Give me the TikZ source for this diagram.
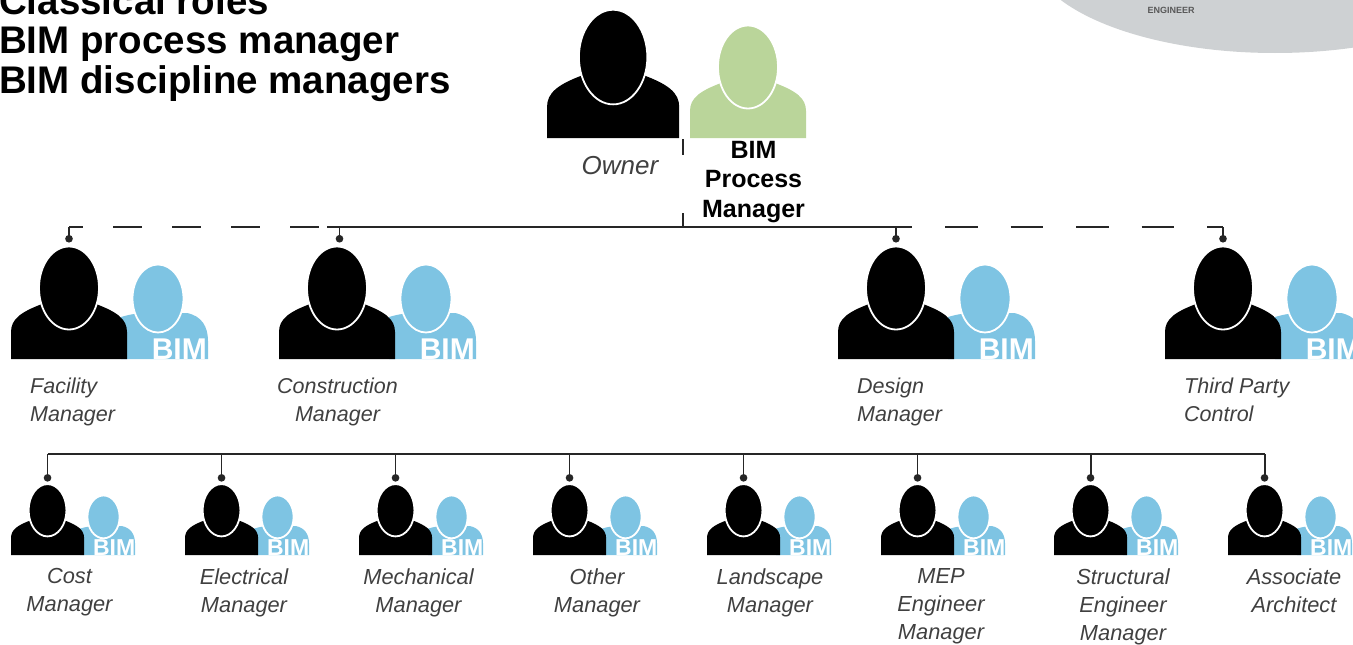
\documentclass[tikz,border=0pt]{standalone}
\usepackage{fontspec}
\setmainfont{Liberation Sans}
\usetikzlibrary{arrows.meta}
\definecolor{bimblue}{HTML}{7EC4E3}
\definecolor{bimgreen}{HTML}{BAD59A}
\definecolor{logogray}{HTML}{CED1D3}
\definecolor{labgray}{HTML}{404040}
\tikzset{
    link/.style={line width=1.9pt, black!85},
    dashlink/.style={line width=1.4pt, black!85},
    droplink/.style={link, -{Circle[length=7.5pt]}},
    lab/.style={font=\fontsize{21.5}{28}\selectfont\itshape, text=labgray, inner sep=0pt, anchor=north,
        execute at begin node=\rule{0pt}{16pt}},
    sublab/.style={lab, font=\fontsize{21.8}{27.8}\selectfont\itshape, align=center},
    bimtext/.style={inner sep=0pt, anchor=south east, text=white},
    pics/person/.style={code={
        \fill[#1] (0,0) -- (0,-27) .. controls (0,-40) and (10,-47) .. (31,-55) -- (85,-55)
            .. controls (106,-47) and (116,-40) .. (116,-27) -- (116,0) -- cycle;
        \draw[fill=#1, draw=white, line width=1.8pt] (58,-71) ellipse (30 and 41.5);
        \coordinate (-top) at (58,-116.5);
    }},
    pics/helper/.style={code={
        \fill[bimblue] (-6,0) -- (-6,-42) .. controls (4,-45) and (12,-46) .. (20,-46) -- (60,-46)
            .. controls (75,-43) and (81,-32) .. (81,-18) -- (81,0) -- cycle;
        \draw[fill=bimblue, draw=white, line width=1.8pt] (31,-60.5) ellipse (25.5 and 34);
    }}
}
\begin{document}
\begin{tikzpicture}[x=1pt,y=-1pt]
    \useasboundingbox (0,0) rectangle (1353,645);

    % logo
    \fill[logogray] (1275,-50) ellipse (245 and 103);
    \node[inner sep=0pt, font=\fontsize{9}{9}\selectfont\bfseries, text=black!65] (logo) at (1171,10) {ENGINEER};

    % title
    \node[anchor=north west, align=left, inner sep=0pt, font=\fontsize{38.5}{39.5}\selectfont\bfseries] (title) at (-1,-14)
        {Classical roles\\BIM process manager\\BIM discipline managers};

    % top row
    \pic[scale=1.14] (owner) at (547,138) {person=black};
    \pic (bpm) at (690,138) {person=bimgreen};
    \node[lab, font=\fontsize{26}{29}\selectfont\itshape, anchor=center, execute at begin node={}] (ownerlab) at (620,166) {Owner};
    \node[align=center, inner sep=0pt, font=\fontsize{25}{29.5}\selectfont\bfseries] (bpmlab) at (753.5,182) {BIM\\Process\\Manager};

    % second row
    \foreach \name/\x in {fac/11,con/279,des/838,thi/1165} {
        \pic at (\x+116,359) {helper};
        \pic (\name) at (\x,359) {person=black};
        \node[bimtext, font=\fontsize{30}{30}\selectfont\bfseries] (\name bim) at (\x+196,359.5) {BIM};
    }
    \node[lab, anchor=north west, align=left] (faclab) at (30,378) {Facility\\Manager};
    \node[lab, align=center] (conlab) at (337.5,378) {Construction\\Manager};
    \node[lab, anchor=north west, align=left] (deslab) at (857,378) {Design\\Manager};
    \node[lab, anchor=north west, align=left] (thilab) at (1184,378) {Third Party\\Control};

    % third row
    \foreach \i/\x/\lx/\txt in {1/11/69.5/{Cost\\Manager},2/185/244/{Electrical\\Manager},3/359/418.5/{Mechanical\\Manager},4/533/597/{Other\\Manager},5/707/770/{Landscape\\Manager},6/881/941/{MEP\\Engineer\\Manager},7/1054/1123/{Structural\\Engineer\\Manager},8/1228/1294/{Associate\\Architect}} {
        \pic[scale=.63] at (\x+73,555) {helper};
        \pic[scale=.63] (sub\i) at (\x,555) {person=black};
        \node[bimtext, font=\fontsize{23}{23}\selectfont\bfseries] (bim\i) at (\x+124.5,555.5) {BIM};
        \node[sublab] (sublab\i) at (\lx,568.5) {\txt};
    }

    % connectors
    \coordinate (bus1) at (69,227);
    \coordinate (bus2) at (327,227);
    \coordinate (bus3) at (912,227);
    \coordinate (bus4) at (1223,227);
    \coordinate (condrop) at (339.5,227);
    \coordinate (mid) at (683,227);
    \coordinate (midtop) at (683,213);
    \coordinate (ownertop) at (683,139);
    \coordinate (ownerend) at (683,155);
    \draw[link] (bus2) -- (bus3);
    \draw[dashlink, dash pattern=on 29pt off 30pt, dash phase=15pt] (bus1) -- (bus2);
    \draw[dashlink, dash pattern=on 32.5pt off 33pt, dash phase=32.5pt] (bus3) -- (bus4);
    \draw[link] (mid) -- (midtop);
    \draw[link] (ownertop) -- (ownerend);
    \draw[droplink] (bus1) -- (fac-top);
    \draw[droplink] (condrop) -- (condrop |- con-top);
    \draw[droplink] (des-top |- bus1) -- (des-top);
    \draw[droplink] (bus4) -- (thi-top);

    \coordinate (sbusl) at (sub1-top |- 0,454);
    \coordinate (sbusr) at (sub8-top |- 0,454);
    \draw[link] (sbusl) -- (sbusr);
    \foreach \i in {1,...,8} {
        \draw[droplink] (sub\i-top |- sbusl) -- (sub\i-top);
    }
\end{tikzpicture}
\end{document}
